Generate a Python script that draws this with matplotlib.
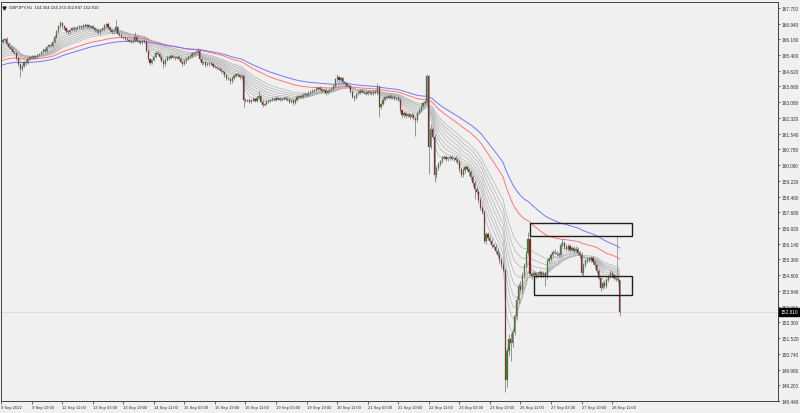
import numpy as np
import matplotlib
matplotlib.use('Agg')
import matplotlib.pyplot as plt
from matplotlib.patches import Rectangle
from matplotlib.transforms import blended_transform_factory


symbol_text = 'GBPJPY,H1  154.354 154.374 152.847 152.810'

# hourly closes, bar 0 = 9 Sep 2022 03:00
closes = [
    166.05, 166.15, 166.20, 165.95, 165.80, 165.70, 165.55, 165.50, 165.25, 164.95,
    164.70, 164.85, 165.05, 165.00, 165.20, 165.30, 165.25, 165.35, 165.30, 165.40,
    165.45, 165.55, 165.65, 165.60, 165.80, 165.90, 165.85, 166.05, 166.30, 166.55,
    166.80, 166.95, 166.80, 166.70, 166.55, 166.50, 166.60, 166.70, 166.65, 166.70,
    166.75, 166.80, 166.75, 166.85, 166.80, 166.85, 166.75, 166.80, 166.70, 166.60,
    166.55, 166.50, 166.60, 166.70, 166.85, 166.90, 166.75, 166.60, 166.50, 166.55,
    166.75, 166.45, 166.40, 166.30, 166.25, 166.20, 166.15, 166.10, 166.05, 166.10,
    166.30, 166.10, 166.05, 166.00, 166.10, 166.05, 165.60, 165.20, 165.00, 165.15,
    165.30, 165.50, 165.45, 165.30, 165.10, 164.95, 165.15, 165.30, 165.25, 165.35,
    165.30, 165.25, 165.30, 165.20, 165.05, 164.95, 165.10, 165.20, 165.30, 165.35,
    165.45, 165.50, 165.55, 165.60, 165.20, 165.00, 165.05, 164.90, 164.95, 165.00,
    164.95, 164.85, 164.80, 164.75, 164.70, 164.60, 164.55, 164.40, 164.25, 164.20,
    164.10, 164.25, 164.35, 164.45, 164.40, 164.30, 164.35, 163.20, 163.15, 163.20,
    163.10, 163.20, 163.25, 163.15, 163.30, 163.40, 163.10, 162.95, 163.00, 163.10,
    163.15, 163.20, 163.25, 163.20, 163.30, 163.25, 163.20, 163.25, 163.30, 163.25,
    163.20, 163.10, 163.15, 163.05, 163.20, 163.35, 163.40, 163.35, 163.45, 163.50,
    163.45, 163.55, 163.60, 163.65, 163.70, 163.75, 163.80, 163.75, 163.65, 163.70,
    163.55, 163.65, 163.70, 163.75, 163.90, 164.20, 164.30, 164.15, 164.25, 164.05,
    164.00, 163.90, 163.85, 163.60, 163.35, 163.30, 163.50, 163.55, 163.65, 163.60,
    163.55, 163.50, 163.60, 163.55, 163.50, 163.60, 163.55, 163.85, 162.85, 163.00,
    163.20, 163.35, 163.30, 163.40, 163.30, 163.35, 163.25, 163.30, 163.20, 162.70,
    162.45, 162.55, 162.40, 162.50, 162.35, 162.45, 162.30, 162.20, 162.55, 162.70,
    162.90, 163.05, 163.10, 164.35, 160.90, 161.75, 161.40, 159.50, 159.85, 160.05,
    160.20, 160.35, 160.40, 160.30, 160.35, 160.40, 160.30, 160.35, 160.25, 160.15,
    159.80, 159.50, 159.75, 159.90, 159.80, 159.65, 159.40, 159.10, 158.85, 158.70,
    158.30, 157.90, 157.70, 156.30, 156.60, 156.45, 156.30, 156.10, 156.00, 155.80,
    155.60, 155.35, 155.10, 154.85, 149.45, 150.90, 151.50, 151.30, 151.80, 152.60,
    153.40, 154.10, 153.90, 154.60, 155.10, 155.70, 156.40, 154.65, 154.55, 154.70,
    154.60, 154.65, 154.75, 154.60, 154.70, 154.50, 155.30, 155.40, 155.60, 155.75,
    155.70, 155.65, 155.60, 156.10, 156.20, 156.00, 155.90, 156.05, 155.85, 155.95,
    155.80, 155.90, 155.70, 155.60, 154.70, 155.10, 155.30, 155.40, 155.35, 155.45,
    155.25, 155.10, 154.80, 154.45, 154.00, 154.20, 154.10, 154.35, 154.55, 154.70,
    154.60, 154.45, 154.40, 154.354, 152.81,
]
first_open = 165.95

upper_wick = [
    0.08, 0.06, 0.05, 0.10, 0.07, 0.05, 0.08, 0.06, 0.05, 0.07,
    0.06, 0.08, 0.05, 0.09, 0.06, 0.05, 0.08, 0.06, 0.07, 0.05,
    0.06, 0.05, 0.08, 0.07, 0.05, 0.06, 0.09, 0.05, 0.06, 0.08,
    0.07, 0.10, 0.08, 0.06, 0.09, 0.07, 0.06, 0.08, 0.10, 0.06,
    0.07, 0.09, 0.06, 0.08, 0.10, 0.07, 0.06, 0.08, 0.05, 0.07,
    0.06, 0.08, 0.05, 0.07, 0.06, 0.08, 0.09, 0.06, 0.07, 0.05,
    0.37, 0.08, 0.06, 0.07, 0.05, 0.08, 0.06, 0.05, 0.07, 0.06,
    0.20, 0.07, 0.06, 0.08, 0.05, 0.07, 0.06, 0.08, 0.05, 0.07,
    0.06, 0.08, 0.07, 0.05, 0.06, 0.08, 0.05, 0.07, 0.06, 0.08,
    0.07, 0.05, 0.06, 0.08, 0.05, 0.06, 0.07, 0.05, 0.08, 0.06,
    0.07, 0.05, 0.06, 0.12, 0.08, 0.06, 0.07, 0.05, 0.08, 0.06,
    0.05, 0.07, 0.06, 0.08, 0.05, 0.07, 0.06, 0.05, 0.08, 0.06,
    0.07, 0.08, 0.06, 0.05, 0.07, 0.06, 0.08, 0.05, 0.07, 0.06,
    0.08, 0.05, 0.07, 0.06, 0.08, 0.22, 0.06, 0.07, 0.05, 0.08,
    0.06, 0.05, 0.07, 0.06, 0.08, 0.05, 0.07, 0.06, 0.05, 0.08,
    0.06, 0.07, 0.05, 0.08, 0.06, 0.07, 0.05, 0.06, 0.08, 0.07,
    0.05, 0.06, 0.08, 0.07, 0.05, 0.06, 0.08, 0.07, 0.05, 0.06,
    0.08, 0.05, 0.07, 0.06, 0.08, 0.07, 0.15, 0.06, 0.08, 0.05,
    0.07, 0.06, 0.05, 0.08, 0.06, 0.07, 0.05, 0.08, 0.06, 0.07,
    0.05, 0.06, 0.08, 0.07, 0.05, 0.06, 0.08, 0.15, 0.07, 0.06,
    0.08, 0.05, 0.07, 0.06, 0.08, 0.05, 0.07, 0.06, 0.08, 0.07,
    0.06, 0.08, 0.05, 0.07, 0.06, 0.08, 0.05, 0.07, 0.06, 0.08,
    0.07, 0.06, 0.08, 0.12, 0.05, 0.25, 0.10, 0.12, 0.10, 0.08,
    0.07, 0.09, 0.10, 0.08, 0.07, 0.09, 0.08, 0.07, 0.10, 0.08,
    0.10, 0.08, 0.12, 0.09, 0.10, 0.08, 0.12, 0.10, 0.15, 0.12,
    0.10, 0.12, 0.15, 0.10, 0.12, 0.10, 0.14, 0.12, 0.10, 0.12,
    0.14, 0.12, 0.10, 0.15, 0.08, 0.15, 0.20, 0.25, 0.15, 0.12,
    0.15, 0.12, 0.20, 0.15, 0.12, 0.10, 0.30, 0.15, 0.12, 0.10,
    0.08, 0.10, 0.12, 0.08, 0.10, 0.08, 0.12, 0.10, 0.08, 0.10,
    0.12, 0.08, 0.10, 0.12, 0.20, 0.10, 0.12, 0.08, 0.10, 0.08,
    0.10, 0.12, 0.08, 0.10, 0.12, 0.10, 0.08, 0.10, 0.12, 0.08,
    0.10, 0.08, 0.12, 0.10, 0.08, 0.10, 0.12, 0.10, 0.08, 0.15,
    0.10, 0.08, 0.12, 0.10, 0.02,
]

lower_wick = [
    0.06, 0.08, 0.05, 0.07, 0.06, 0.08, 0.05, 0.07, 0.09, 0.10,
    0.40, 0.07, 0.06, 0.08, 0.05, 0.07, 0.06, 0.05, 0.08, 0.06,
    0.07, 0.06, 0.05, 0.08, 0.06, 0.07, 0.05, 0.08, 0.06, 0.05,
    0.06, 0.07, 0.08, 0.05, 0.07, 0.06, 0.08, 0.05, 0.07, 0.06,
    0.05, 0.07, 0.06, 0.08, 0.05, 0.06, 0.08, 0.07, 0.05, 0.06,
    0.08, 0.06, 0.07, 0.05, 0.08, 0.06, 0.05, 0.07, 0.06, 0.08,
    0.06, 0.07, 0.05, 0.08, 0.06, 0.05, 0.07, 0.06, 0.08, 0.05,
    0.07, 0.06, 0.08, 0.05, 0.07, 0.06, 0.08, 0.07, 0.10, 0.06,
    0.05, 0.07, 0.06, 0.08, 0.06, 0.19, 0.07, 0.05, 0.08, 0.06,
    0.05, 0.08, 0.06, 0.07, 0.05, 0.10, 0.06, 0.08, 0.05, 0.07,
    0.06, 0.05, 0.07, 0.06, 0.08, 0.07, 0.05, 0.08, 0.06, 0.07,
    0.06, 0.08, 0.05, 0.07, 0.06, 0.08, 0.07, 0.06, 0.08, 0.05,
    0.12, 0.06, 0.07, 0.05, 0.08, 0.06, 0.07, 0.35, 0.08, 0.06,
    0.07, 0.05, 0.08, 0.06, 0.07, 0.05, 0.08, 0.10, 0.06, 0.07,
    0.05, 0.08, 0.06, 0.07, 0.05, 0.08, 0.06, 0.07, 0.05, 0.08,
    0.06, 0.07, 0.05, 0.10, 0.06, 0.05, 0.08, 0.07, 0.06, 0.05,
    0.08, 0.06, 0.07, 0.05, 0.08, 0.06, 0.05, 0.07, 0.08, 0.06,
    0.10, 0.07, 0.05, 0.06, 0.08, 0.07, 0.06, 0.08, 0.05, 0.07,
    0.06, 0.08, 0.07, 0.05, 0.08, 0.14, 0.06, 0.07, 0.05, 0.08,
    0.06, 0.07, 0.05, 0.08, 0.06, 0.07, 0.05, 0.06, 0.49, 0.08,
    0.06, 0.07, 0.05, 0.08, 0.06, 0.07, 0.05, 0.08, 0.06, 0.10,
    0.15, 0.07, 0.08, 0.06, 0.07, 0.05, 0.08, 0.75, 0.07, 0.06,
    0.08, 0.06, 0.07, 0.08, 1.33, 0.10, 0.12, 0.32, 0.15, 0.10,
    0.08, 0.10, 0.07, 0.09, 0.08, 0.10, 0.07, 0.09, 0.08, 0.10,
    0.12, 0.10, 0.08, 0.12, 0.10, 0.15, 0.12, 0.10, 0.50, 0.12,
    0.15, 0.12, 0.10, 0.10, 0.15, 0.12, 0.10, 0.14, 0.12, 0.10,
    0.12, 0.15, 0.12, 0.10, 0.55, 0.30, 0.25, 0.90, 0.20, 0.15,
    0.20, 0.15, 0.18, 0.15, 0.12, 0.15, 0.10, 0.10, 0.12, 0.10,
    0.12, 0.10, 0.08, 0.12, 0.10, 0.40, 0.10, 0.08, 0.12, 0.10,
    0.08, 0.10, 0.12, 0.08, 0.10, 0.12, 0.08, 0.10, 0.12, 0.08,
    0.10, 0.08, 0.12, 0.15, 0.10, 0.12, 0.08, 0.10, 0.08, 0.12,
    0.10, 0.12, 0.08, 0.10, 0.15, 0.08, 0.12, 0.10, 0.08, 0.10,
    0.12, 0.10, 0.08, 0.10, 0.20,
]

# moving average ribbon: periods and the value each line starts at (read at the left edge)
grey_periods = [5, 8, 11, 14, 18, 22, 27, 32, 38]
grey_seeds = [166.00, 165.90, 165.78, 165.66, 165.55, 165.45, 165.36, 165.28, 165.18]
red_period, red_seed = 60, 165.07
blue_period, blue_seed = 80, 164.85

# price scale labels and time labels (one every 16 bars)
price_ticks = [167.700, 166.940, 166.160, 165.400, 164.620, 163.860, 163.080, 162.320,
               161.540, 160.780, 160.000, 159.220, 158.460, 157.680, 156.920, 156.140,
               155.380, 154.600, 153.840, 153.060, 152.300, 151.520, 150.740, 149.980,
               149.200, 148.440]
time_labels = ['9 Sep 2022', '9 Sep 19:00', '12 Sep 11:00', '13 Sep 03:00', '13 Sep 19:00',
               '14 Sep 11:00', '15 Sep 03:00', '15 Sep 19:00', '16 Sep 11:00', '19 Sep 03:00',
               '19 Sep 19:00', '20 Sep 11:00', '21 Sep 03:00', '21 Sep 19:00', '22 Sep 11:00',
               '23 Sep 03:00', '23 Sep 19:00', '26 Sep 11:00', '27 Sep 03:00', '27 Sep 19:00',
               '28 Sep 11:00']
bars_per_label = 16

last_price = 152.810

# drawn boxes: (first bar, last bar, low price, high price)
boxes = [(277, 330.5, 156.55, 157.17), (279, 330.5, 153.65, 154.59)]


def ema(values, period, seed):
    a = 2.0 / (period + 1)
    out = []
    e = seed
    for v in values:
        e = e + a * (v - e)
        out.append(e)
    return out


c = np.array(closes)
o = np.concatenate([[first_open], c[:-1]])
hi = np.maximum(o, c) + np.array(upper_wick)
lo = np.minimum(o, c) - np.array(lower_wick)
idx = np.arange(len(c))

bg = '#f0f0f0'
plt.rcParams['font.family'] = ['Liberation Sans', 'DejaVu Sans']
fig = plt.figure(figsize=(8, 4.14), dpi=100, facecolor=bg)
ax = fig.add_axes([0.5 / 800, 12 / 414, 777.5 / 800, 399 / 414])
ax.set_facecolor(bg)

# ribbon
for p, s in zip(grey_periods, grey_seeds):
    ax.plot(idx, ema(c, p, s), color='#b2b2b2', lw=0.5, zorder=1)
ax.plot(idx, ema(c, red_period, red_seed), color='#ff6e6e', lw=0.65, zorder=1)
ax.plot(idx, ema(c, blue_period, blue_seed), color='#6e6eff', lw=0.65, zorder=1)

# current price line
ax.axhline(last_price, color='#d4d4d4', lw=0.5, zorder=0)

# candles
ax.vlines(idx, lo, hi, color='#6e6e6e', lw=0.5, zorder=2)
body_bottom = np.minimum(o, c)
body_h = np.maximum(np.abs(c - o), 0.02)
body_col = np.where(c >= o, '#3d7f1d', '#861515')
ax.bar(idx, body_h, bottom=body_bottom, width=0.6, color=body_col,
       edgecolor='#6e6e6e', linewidth=0.25, zorder=3)

# boxes
for x0, x1, y0, y1 in boxes:
    ax.add_patch(Rectangle((x0, y0), x1 - x0, y1 - y0, fill=False,
                           edgecolor='#202020', lw=1.0, zorder=4))
ax.plot([322.5, 322.5], [154.59, 156.55], color='#8a8a8a', lw=0.5, zorder=2)

ax.set_xlim(-0.3, 406.9)
ax.set_ylim(148.455, 167.994)

# price axis on the right
ax.yaxis.tick_right()
ax.set_yticks(price_ticks)
ax.set_yticklabels(['%.3f' % v for v in price_ticks])
ax.tick_params(axis='y', length=1.6, width=0.5, pad=1, labelsize=3.4,
               colors='#303030')

# time axis
ax.set_xticks([i * bars_per_label for i in range(len(time_labels))])
ax.set_xticklabels(time_labels)
ax.tick_params(axis='x', length=2.2, width=0.5, pad=0.8, labelsize=3.0,
               colors='#303030')
for lab in ax.get_xticklabels():
    lab.set_horizontalalignment('left')

for sp in ax.spines.values():
    sp.set_color('#404040')
    sp.set_linewidth(0.7)

# header
ax.text(0.011, 0.993, symbol_text, transform=ax.transAxes, fontsize=3.1,
        color='#202020', va='top', ha='left')
ax.plot([0.005], [0.984], marker='v', markersize=2.2, color='#202020',
        transform=ax.transAxes, clip_on=False)

# current price tag
tr = blended_transform_factory(ax.transAxes, ax.transData)
ax.text(1.003, last_price, '%.3f' % last_price, transform=tr, fontsize=3.4,
        color='white', va='center', ha='left',
        bbox=dict(boxstyle='square,pad=0.25', fc='black', ec='black'))

fig.savefig('out.png', dpi=100, facecolor=bg)
